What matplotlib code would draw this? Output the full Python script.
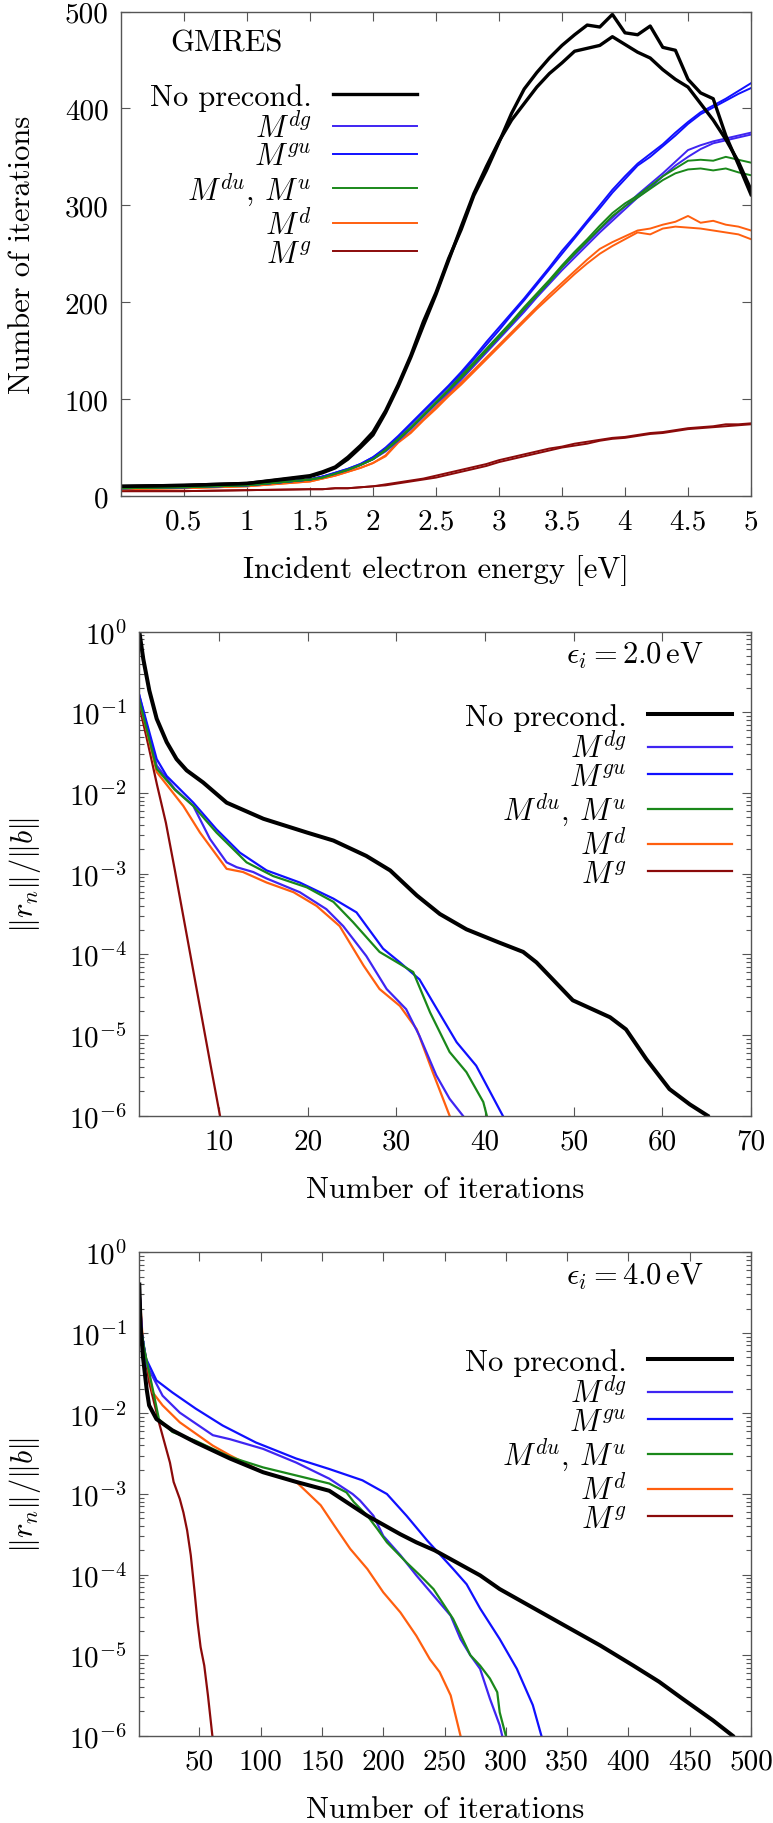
import numpy as np
import matplotlib
matplotlib.use('Agg')
import matplotlib.pyplot as plt
from matplotlib.ticker import FixedLocator, FuncFormatter, NullFormatter, LogLocator

plt.rcParams['font.family'] = 'serif'
plt.rcParams['font.serif'] = ['cmr10']
plt.rcParams['mathtext.fontset'] = 'cm'
plt.rcParams['axes.unicode_minus'] = False
plt.rcParams['axes.formatter.use_mathtext'] = True

# ---- data: panel 1 (iterations vs incident energy), two curves per preconditioner
energy = [0, 0.5, 1.0, 1.5, 1.6, 1.7, 1.8, 1.9, 2.0, 2.1, 2.2, 2.3, 2.4, 2.5, 2.6, 2.7, 2.8, 2.9,
          3.0, 3.1, 3.2, 3.3, 3.4, 3.5, 3.6, 3.7, 3.8, 3.9, 4.0, 4.1, 4.2, 4.3, 4.4, 4.5, 4.6, 4.7,
          4.8, 4.9, 5.0]
noprec_a = [10, 11, 13, 21, 25, 30, 40, 52, 66, 88, 115, 145, 180, 210, 245, 275, 310, 336, 365, 395,
            420, 437, 452, 465, 476, 486, 484, 497, 478, 476, 485, 463, 460, 430, 416, 410, 372, 342, 311]
noprec_b = [10, 11, 13, 20, 24, 29, 38, 50, 63, 86, 113, 143, 176, 208, 243, 278, 312, 340, 366, 388,
            405, 422, 436, 447, 459, 462, 465, 474, 466, 458, 452, 440, 430, 422, 405, 388, 368, 345, 316]
mdg_a = [8, 9, 11, 17, 20, 23, 27, 32, 38, 47, 58, 70, 83, 96, 109, 122, 136, 150, 165, 179,
         192, 208, 222, 236, 249, 262, 275, 287, 299, 311, 322, 333, 345, 357, 362, 366, 369, 372, 375]
mdg_b = [8, 9, 11, 17, 20, 23, 27, 32, 38, 46, 57, 69, 82, 95, 107, 120, 134, 148, 162, 176,
         190, 205, 219, 233, 246, 259, 272, 284, 296, 308, 318, 330, 341, 350, 358, 364, 367, 370, 373]
mgu_a = [8, 9, 11, 17, 20, 24, 28, 33, 40, 50, 62, 75, 88, 101, 114, 128, 143, 159, 174, 189,
         204, 220, 236, 253, 268, 284, 300, 316, 330, 343, 353, 363, 375, 386, 396, 403, 410, 418, 426]
mgu_b = [8, 9, 11, 17, 20, 24, 28, 33, 40, 49, 61, 74, 87, 100, 113, 126, 141, 156, 171, 187,
         202, 218, 234, 250, 266, 282, 297, 313, 327, 341, 350, 361, 372, 384, 394, 401, 408, 415, 421]
mdu_a = [8, 9, 11, 17, 19, 23, 27, 32, 38, 48, 59, 71, 84, 97, 110, 124, 138, 152, 166, 180,
         195, 209, 223, 238, 252, 265, 279, 292, 302, 310, 320, 330, 338, 346, 347, 346, 350, 347, 344]
mdu_b = [8, 9, 11, 17, 19, 23, 27, 32, 38, 47, 58, 70, 83, 96, 109, 122, 136, 150, 164, 178,
         193, 207, 221, 236, 250, 263, 276, 289, 299, 308, 317, 326, 333, 337, 338, 336, 338, 334, 331]
md_a = [7, 8, 10, 15, 18, 21, 25, 29, 34, 42, 56, 66, 79, 92, 105, 117, 130, 143, 156, 169,
        182, 195, 208, 220, 232, 244, 255, 262, 268, 274, 276, 280, 283, 289, 282, 284, 280, 278, 274]
md_b = [7, 8, 10, 15, 18, 21, 25, 29, 34, 41, 55, 65, 78, 90, 103, 115, 128, 141, 154, 167,
        180, 193, 205, 217, 229, 240, 250, 258, 265, 272, 270, 276, 278, 277, 276, 274, 272, 270, 265]
mg_a = [5, 5, 6, 7, 7, 8, 8, 9, 10, 12, 14, 16, 18, 21, 24, 27, 30, 33, 37, 40,
        43, 46, 49, 51, 54, 56, 58, 60, 61, 63, 65, 66, 68, 70, 71, 72, 74, 74, 75]
mg_b = [5, 5, 6, 7, 7, 8, 8, 9, 10, 11, 13, 15, 17, 19, 22, 25, 28, 31, 35, 38,
        41, 44, 47, 50, 52, 54, 57, 59, 60, 62, 64, 65, 67, 69, 70, 71, 72, 73, 74]

# ---- data: panel 2 (eps = 2.0 eV), residual history as log10 values
it2_noprec = [1, 1.45, 2.13, 2.96, 4.09, 5.2, 6.34, 8.2, 10.85, 15, 19.9, 22.9, 26.6, 29.3, 32.3,
              34.9, 37.9, 41.5, 44.3, 45.8, 49.9, 54.1, 55.9, 58.2, 60.8, 63.1, 65.1]
lr2_noprec = [0.0, -0.34, -0.73, -1.08, -1.37, -1.58, -1.72, -1.87, -2.12, -2.32, -2.49, -2.59, -2.78,
              -2.96, -3.27, -3.5, -3.69, -3.85, -3.97, -4.1, -4.57, -4.78, -4.93, -5.3, -5.67, -5.86, -6.0]
it2_mdg = [1, 2.96, 5, 7.09, 8.97, 10.85, 11.98, 13.85, 15.36, 19.1, 22.1, 24.0, 26.6, 28.9, 31.1,
           32.6, 34.5, 36.0, 37.5]
lr2_mdg = [-0.79, -1.66, -1.95, -2.16, -2.57, -2.86, -2.92, -2.98, -3.06, -3.23, -3.44, -3.65, -4.02,
           -4.43, -4.68, -5.01, -5.5, -5.79, -6.0]
it2_mgu = [1, 2.96, 4.09, 7.09, 9.7, 12.35, 15.36, 19.1, 22.9, 25.5, 28.5, 30.4, 32.6, 34.1, 36.8,
           39.0, 42.0]
lr2_mgu = [-0.79, -1.58, -1.79, -2.12, -2.45, -2.74, -2.96, -3.11, -3.31, -3.48, -3.93, -4.1, -4.31,
           -4.59, -5.09, -5.38, -6.0]
it2_mdu = [1, 2.96, 5, 7.09, 9.7, 13.1, 16.1, 19.9, 22.9, 25.1, 28.1, 30.4, 31.9, 33.8, 36.0, 37.9,
           39.8, 40.2]
lr2_mdu = [-0.85, -1.7, -1.96, -2.16, -2.49, -2.86, -3.03, -3.17, -3.35, -3.6, -3.97, -4.12, -4.22,
           -4.72, -5.21, -5.46, -5.83, -6.0]
it2_md = [1, 2.96, 5.96, 7.84, 10.85, 12.7, 15.36, 18.4, 21.0, 23.6, 26.3, 28.1, 30.4, 32.3, 34.1, 36.0]
lr2_md = [-0.85, -1.74, -2.16, -2.49, -2.94, -2.98, -3.11, -3.23, -3.4, -3.65, -4.14, -4.43, -4.64,
          -4.93, -5.46, -6.0]
it2_mg = [1, 2, 3, 4, 5, 6, 7, 8, 9, 10, 10.1]
lr2_mg = [-0.92, -1.4, -1.9, -2.37, -2.95, -3.55, -4.15, -4.75, -5.35, -5.94, -6.0]

# ---- data: panel 3 (eps = 4.0 eV)
it3_noprec = [1, 2, 4, 7, 9, 15, 28, 47, 75, 102, 129, 156, 187, 214, 227, 242, 279, 295, 350,
              377, 404, 425, 444, 469, 485]
lr3_noprec = [-0.4, -0.9, -1.3, -1.7, -1.9, -2.07, -2.21, -2.36, -2.56, -2.73, -2.85, -2.96, -3.27,
              -3.5, -3.6, -3.7, -4.01, -4.18, -4.65, -4.88, -5.13, -5.33, -5.54, -5.81, -6.0]
it3_mdg = [1, 3, 7, 20, 34, 61, 75, 102, 129, 156, 175, 181, 192, 200, 214, 227, 241, 255, 263, 271,
           279, 287, 295, 297]
lr3_mdg = [-0.4, -1.0, -1.4, -1.78, -1.99, -2.27, -2.32, -2.44, -2.61, -2.81, -3.0, -3.08, -3.27,
           -3.52, -3.76, -4.01, -4.26, -4.51, -4.8, -5.0, -5.17, -5.54, -5.87, -6.0]
it3_mgu = [1, 3, 6.5, 15, 28, 47, 69, 96, 129, 156, 183, 203, 219, 236, 257, 268, 279, 295, 309,
           322, 329]
lr3_mgu = [-0.4, -1.0, -1.32, -1.59, -1.74, -1.94, -2.15, -2.36, -2.56, -2.69, -2.83, -3.0, -3.27,
           -3.58, -3.93, -4.12, -4.42, -4.8, -5.17, -5.62, -6.0]
it3_mdu = [1, 2, 5, 12, 17, 28, 47, 75, 102, 129, 156, 170, 176, 187, 195, 203, 219, 230, 241, 257,
           271, 279, 287, 293, 295, 300]
lr3_mdu = [-0.55, -0.9, -1.2, -1.7, -2.07, -2.23, -2.34, -2.54, -2.67, -2.77, -2.87, -2.98, -3.1,
           -3.27, -3.43, -3.6, -3.85, -4.01, -4.18, -4.55, -5.0, -5.13, -5.29, -5.46, -5.71, -6.0]
it3_md = [1, 4, 12, 20, 34, 61, 75, 102, 129, 138, 149, 160, 173, 187, 200, 214, 227, 238, 246, 255, 263]
lr3_md = [-0.45, -1.12, -1.74, -1.9, -2.11, -2.4, -2.52, -2.73, -2.85, -2.98, -3.14, -3.39, -3.68,
          -3.93, -4.22, -4.47, -4.76, -5.05, -5.21, -5.5, -6.0]
it3_mg = [1, 3, 9, 17, 26, 29, 34, 37, 40, 43, 46, 48.5, 51, 54, 57, 60.6]
lr3_mg = [-0.4, -1.0, -1.61, -2.11, -2.61, -2.85, -3.06, -3.23, -3.45, -3.76, -4.2, -4.59, -4.9,
          -5.13, -5.5, -6.0]

labels = ['No precond.', r'$M^{dg}$', r'$M^{gu}$', r'$M^{du}$, $M^{u}$', r'$M^{d}$', r'$M^{g}$']
colors = ['#000000', '#3f25f2', '#1010ff', '#1a881a', '#ff5f0f', '#8b0a0a']

FS = 22
W, H = 773, 1824
fig = plt.figure(figsize=(W / 100, H / 100), dpi=100)


def px_axes(left, top, right, bottom):
    return fig.add_axes([left / W, 1 - bottom / H, (right - left) / W, (bottom - top) / H])


def style(ax):
    for s in ax.spines.values():
        s.set_color('#555555')
        s.set_linewidth(1.0)
    ax.tick_params(which='both', direction='in', top=True, right=True, colors='#555555',
                   labelcolor='black', labelsize=FS - 1, pad=9)
    ax.tick_params(which='major', length=6.5, width=0.8)
    ax.tick_params(which='minor', length=3.5, width=0.8)


def add_legend(ax, handles, x, y):
    leg = ax.legend(handles, labels, loc='upper right', bbox_to_anchor=(x, y), frameon=False,
                    markerfirst=False, fontsize=FS, handlelength=2.75, handletextpad=0.7,
                    labelspacing=0.0, borderpad=0, borderaxespad=0)
    return leg


# ---- panel 1
ax1 = px_axes(121, 12.5, 751, 497)
series1 = [(noprec_a, noprec_b), (mdg_a, mdg_b), (mgu_a, mgu_b), (mdu_a, mdu_b), (md_a, md_b), (mg_a, mg_b)]
handles1 = []
for i in [5, 4, 1, 2, 3, 0]:
    a, b = series1[i]
    lw = 2.4 if i == 0 else 1.4
    h, = ax1.plot(energy, a, color=colors[i], lw=lw)
    ax1.plot(energy, b, color=colors[i], lw=lw)
    handles1.append((i, h))
handles1 = [h for i, h in sorted(handles1)]
ax1.set_xlim(0, 5)
ax1.set_ylim(0, 500)
xt1 = [0.5, 1, 1.5, 2, 2.5, 3, 3.5, 4, 4.5, 5]
ax1.xaxis.set_major_locator(FixedLocator(xt1))
ax1.set_xticklabels(['0.5', '1', '1.5', '2', '2.5', '3', '3.5', '4', '4.5', '5'])
yt1 = [0, 100, 200, 300, 400, 500]
ax1.yaxis.set_major_locator(FixedLocator(yt1))
ax1.set_yticklabels([str(v) for v in yt1])
style(ax1)
ax1.set_xlabel('Incident electron energy [eV]', fontsize=FS, va='center')
ax1.xaxis.set_label_coords(0.5, -0.151)
ax1.set_ylabel('Number of iterations', fontsize=FS, va='center')
ax1.yaxis.set_label_coords(-0.157, 0.5)
ax1.text(0.168, 0.935, 'GMRES', transform=ax1.transAxes, fontsize=FS, ha='center', va='center')
add_legend(ax1, handles1, 0.470, 0.853)


def log_panel(top, bottom, data, xmax, xticks, eps_text, leg_y):
    ax = px_axes(139.3, top, 751, bottom)
    hs = []
    for i in [5, 4, 1, 2, 3, 0]:
        it, lr = data[i]
        lw = 2.9 if i == 0 else 1.6
        h, = ax.plot(it, 10.0 ** np.array(lr), color=colors[i], lw=lw)
        hs.append((i, h))
    hs = [h for i, h in sorted(hs)]
    ax.set_yscale('log')
    ax.set_xlim(1, xmax)
    ax.set_ylim(1e-6, 1)
    ax.xaxis.set_major_locator(FixedLocator(xticks))
    ax.set_xticklabels([str(v) for v in xticks])
    ax.yaxis.set_major_locator(LogLocator(base=10, numticks=10))
    ax.yaxis.set_minor_locator(LogLocator(base=10, subs=np.arange(2, 10), numticks=20))
    ax.yaxis.set_major_formatter(FuncFormatter(lambda v, p: r'$10^{%d}$' % int(round(np.log10(v)))))
    ax.yaxis.set_minor_formatter(NullFormatter())
    style(ax)
    ax.set_xlabel('Number of iterations', fontsize=FS, va='center')
    ax.xaxis.set_label_coords(0.5, -0.1515)
    ax.set_ylabel(r'$\|r_n\|/\|b\|$', fontsize=FS, va='center')
    ax.yaxis.set_label_coords(-0.187, 0.5)
    ax.text(0.922, 0.952, eps_text, transform=ax.transAxes, fontsize=FS, ha='right', va='center')
    add_legend(ax, hs, 0.969, leg_y)
    return ax


data2 = [(it2_noprec, lr2_noprec), (it2_mdg, lr2_mdg), (it2_mgu, lr2_mgu), (it2_mdu, lr2_mdu),
         (it2_md, lr2_md), (it2_mg, lr2_mg)]
data3 = [(it3_noprec, lr3_noprec), (it3_mdg, lr3_mdg), (it3_mgu, lr3_mgu), (it3_mdu, lr3_mdu),
         (it3_md, lr3_md), (it3_mg, lr3_mg)]

log_panel(632.6, 1116.7, data2, 70, [10, 20, 30, 40, 50, 60, 70],
          r'$\epsilon_i = 2.0\,\mathrm{eV}$', 0.8525)
log_panel(1253.3, 1736.7, data3, 500, [50, 100, 150, 200, 250, 300, 350, 400, 450, 500],
          r'$\epsilon_i = 4.0\,\mathrm{eV}$', 0.8015)

fig.savefig('out.png', dpi=100)
